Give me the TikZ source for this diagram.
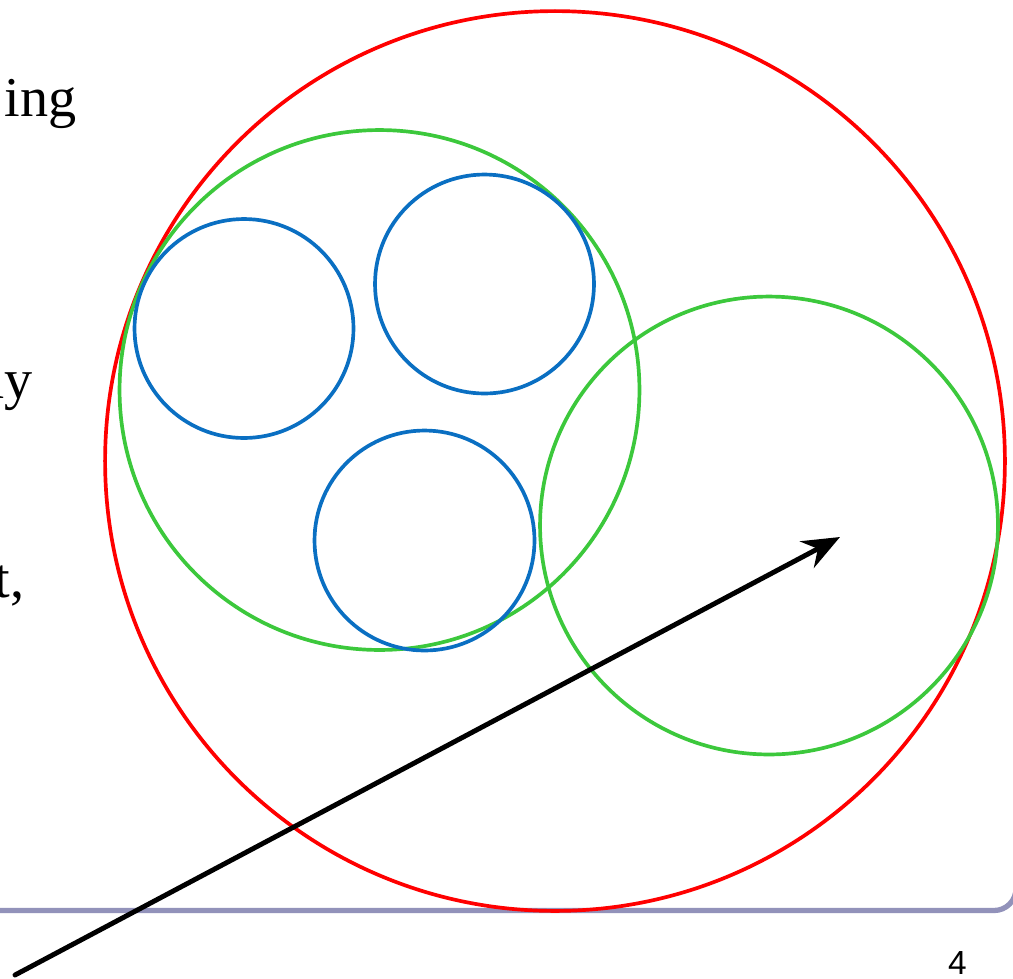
\documentclass[tikz,border=0pt]{standalone}
\usepackage{fontspec}
\setmainfont{Liberation Serif}
\newfontfamily\pagefont{Liberation Sans}
\usetikzlibrary{arrows.meta}
\definecolor{Ring}{HTML}{FF0000}
\definecolor{Leaf}{HTML}{3CC83C}
\definecolor{Cell}{HTML}{0A6FC2}
\definecolor{Rule}{HTML}{9292BA}
\tikzset{
 outer/.style={draw=Ring,line width=2.1pt},
 group/.style={draw=Leaf,line width=2.1pt},
 member/.style={draw=Cell,line width=2.1pt},
 frag/.style={font=\fontsize{32}{38}\selectfont,anchor=base east,inner sep=0pt},
 arr/.style={-{Stealth[length=7.5mm,width=6mm,inset=2.5mm]},line width=2.8pt,line cap=round},
 bar/.style={draw=Rule,line width=3pt,rounded corners=0.44cm}
}
\begin{document}
\begin{tikzpicture}[x=0.02cm,y=-0.02cm]
\useasboundingbox (0,0) rectangle (1013,978);
\node[frag] (ing) at (77,116) {ing};
\node[frag] (ay) at (33,398) {ay};
\node[frag] (tc) at (25,597) {t,};
\draw[bar] (0,910.5) -- (1016,910.5) -- (1016,700);
\node[font=\pagefont\fontsize{19}{22}\selectfont,inner sep=0pt] (page) at (957.5,963) {4};
\draw[outer] (555,461) circle[radius=9cm];
\draw[group] (379.5,390) circle[radius=5.2cm];
\draw[group] (769,525.5) circle[radius=4.58cm];
\draw[member] (244,328.5) circle[radius=2.19cm];
\draw[member] (484.5,284) circle[radius=2.19cm];
\draw[member] (424.5,540.5) circle[radius=2.2cm];
\coordinate (tail) at (15,975);
\coordinate (head) at (840,537);
\draw[arr] (tail) -- (head);
\end{tikzpicture}
\end{document}
